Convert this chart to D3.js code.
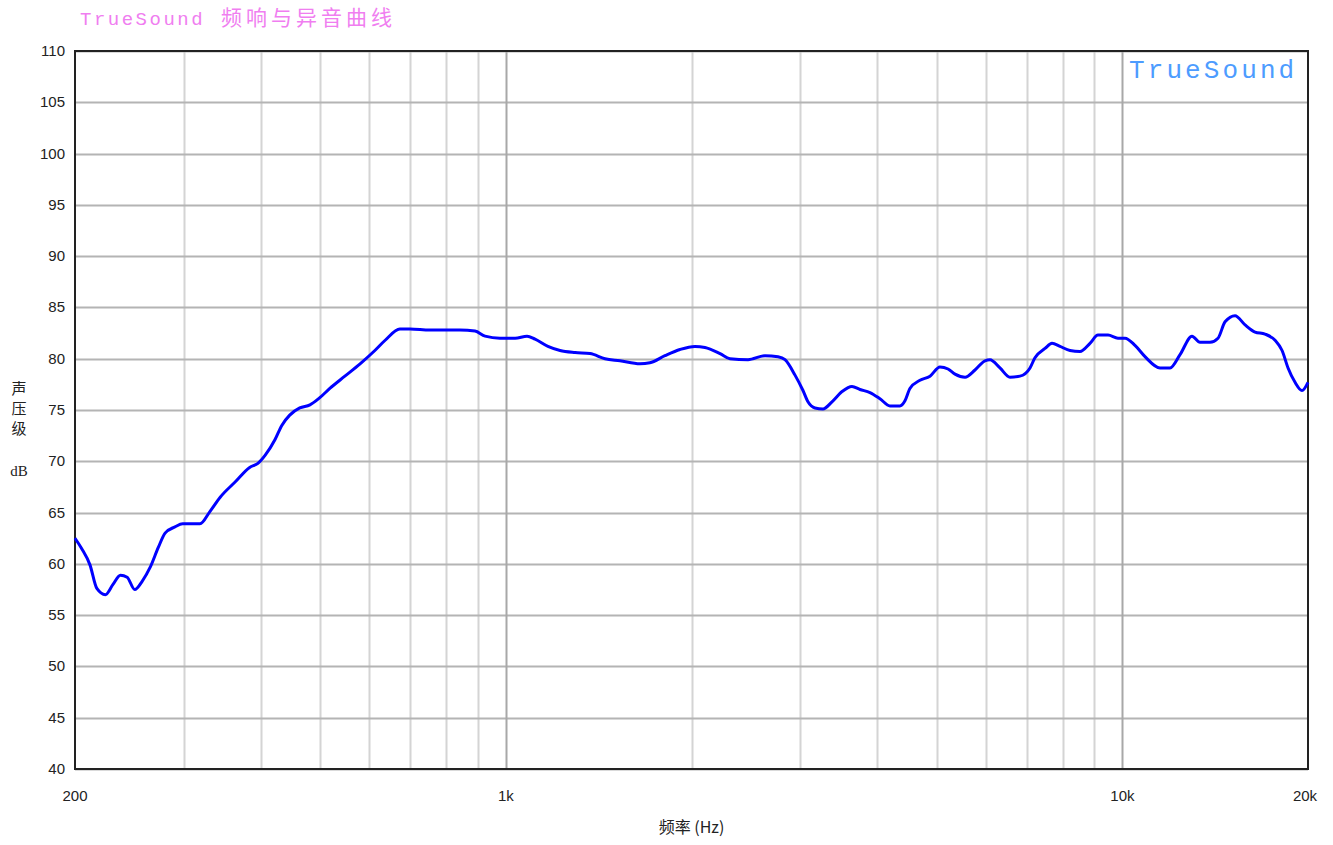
<!DOCTYPE html>
<html>
<head>
<meta charset="utf-8">
<script src="https://cdn.jsdelivr.net/npm/d3@7/dist/d3.min.js"></script>
<style>
  html, body { margin: 0; padding: 0; background: #fff; }
  svg { display: block; }
</style>
</head>
<body>
<svg id="chart" width="1333" height="845"></svg>
<script>
// ---- data ----
const freqHz = [200, 205, 211.5, 217, 224, 230.5, 237, 243, 250, 257, 265, 273, 280, 290.5, 299,
  319, 331, 344, 364, 384, 396, 407, 422, 433, 446, 463, 481, 499, 518, 548, 580, 613, 637, 673,
  699, 753, 842, 891, 925, 978, 1035, 1082, 1115, 1170, 1224, 1295, 1369, 1448, 1531, 1650, 1712,
  1811, 1916, 2026, 2103, 2225, 2309, 2470, 2632, 2763, 2836, 2944, 3033, 3090, 3172, 3268, 3380,
  3509, 3642, 3752, 3895, 4043, 4197, 4357, 4439, 4522, 4695, 4874, 5059, 5214, 5352, 5555, 5766,
  5986, 6099, 6330, 6571, 6821, 7081, 7214, 7489, 7688, 7921, 8222, 8534, 8859, 9128, 9476, 9836,
  10097, 10481, 10881, 11508, 11946, 12401, 12968, 13362, 13870, 14291, 14671, 15229, 15810, 16411,
  17035, 17685, 18154, 18564, 19056, 19557, 20000];
const splDb = [62.5, 61.5, 59.9, 57.6, 57.0, 58.0, 58.9, 58.7, 57.5, 58.3, 59.7, 61.6, 63.0, 63.6, 63.9,
  63.9, 65.1, 66.5, 68.0, 69.4, 69.8, 70.6, 72.1, 73.5, 74.5, 75.2, 75.5, 76.2, 77.1, 78.3, 79.5, 80.8, 81.8, 82.9,
  82.9, 82.8, 82.8, 82.7, 82.2, 82.0, 82.0, 82.2, 81.9, 81.2, 80.8, 80.6, 80.5, 80.0, 79.8, 79.5, 79.6,
  80.3, 80.9, 81.2, 81.1, 80.5, 80.0, 79.9, 80.3, 80.2, 79.9, 78.4, 76.9, 75.8, 75.2, 75.1, 75.8,
  76.8, 77.3, 77.0, 76.7, 76.1, 75.4, 75.4, 75.9, 77.1, 77.9, 78.3, 79.2, 79.0, 78.5, 78.2, 78.9,
  79.8, 79.9, 79.1, 78.2, 78.3, 79.1, 80.1, 81.0, 81.5, 81.2, 80.8, 80.7, 81.5, 82.3, 82.3, 82.0,
  82.0, 81.3, 80.2, 79.1, 79.1, 80.4, 82.2, 81.6, 81.6, 82.0, 83.6, 84.2, 83.3, 82.6,
  82.4, 81.8, 80.8, 79.1, 77.7, 76.9, 77.7];

const yTicks = [40, 45, 50, 55, 60, 65, 70, 75, 80, 85, 90, 95, 100, 105, 110];
const xMinorGrid = [300, 400, 500, 600, 700, 800, 900, 2000, 3000, 4000, 5000, 6000, 7000, 8000, 9000];
const xMajorGrid = [1000, 10000];
const xTickValues = [200, 1000, 10000, 20000];
const xTickLabels = ["200", "1k", "10k", "20k"];

const titleLatin = "TrueSound";
const titleCjk = "频响与异音曲线";
const watermark = "TrueSound";
const yLabelChars = ["声", "压", "级"];
const yUnit = "dB";
const xLabel = "频率 (Hz)";

// ---- layout ----
const padL = 75, padR = 1308, padT = 51, padB = 769;
const svg = d3.select("#chart");

const x = d3.scaleLog().domain([200, 20000]).range([padL, padR]);
const y = d3.scaleLinear().domain([40, 110]).range([padB, padT]);

// minor vertical grid
svg.append("g").selectAll("line").data(xMinorGrid).join("line")
  .attr("x1", d => Math.round(x(d)) + 0.5).attr("x2", d => Math.round(x(d)) + 0.5)
  .attr("y1", padT).attr("y2", padB)
  .attr("stroke", "#d4d4d4").attr("stroke-width", 2);

// horizontal grid
svg.append("g").selectAll("line").data(yTicks).join("line")
  .attr("x1", padL).attr("x2", padR)
  .attr("y1", d => Math.round(y(d)) + 0.5).attr("y2", d => Math.round(y(d)) + 0.5)
  .attr("stroke", "#b4b4b4").attr("stroke-width", 2);

// major vertical grid
svg.append("g").selectAll("line").data(xMajorGrid).join("line")
  .attr("x1", d => Math.round(x(d)) + 0.5).attr("x2", d => Math.round(x(d)) + 0.5)
  .attr("y1", padT).attr("y2", padB)
  .attr("stroke", "#a8a8a8").attr("stroke-width", 2);

// frame
svg.append("rect").attr("x", padL).attr("y", padT)
  .attr("width", padR - padL).attr("height", padB - padT)
  .attr("fill", "none").attr("stroke", "#222").attr("stroke-width", 2);

// curve
const pts = freqHz.map((f, i) => [f, splDb[i]]);
const line = d3.line().x(d => x(d[0])).y(d => y(d[1])).curve(d3.curveMonotoneX);
svg.append("path").datum(pts).attr("d", line)
  .attr("fill", "none").attr("stroke", "#0000ff").attr("stroke-width", 3)
  .attr("stroke-linejoin", "round");

// y tick labels
svg.append("g").selectAll("text").data(yTicks).join("text")
  .attr("x", 65).attr("y", d => y(d) + 5)
  .attr("text-anchor", "end")
  .attr("font-family", "Liberation Sans, Arial, sans-serif").attr("font-size", 15)
  .attr("fill", "#222").text(d => d);

// x tick labels
svg.append("g").selectAll("text").data(xTickValues).join("text")
  .attr("x", (d, i) => x(d) + (i === 3 ? -3 : 0)).attr("y", 801)
  .attr("text-anchor", "middle")
  .attr("font-family", "Liberation Sans, Arial, sans-serif").attr("font-size", 15)
  .attr("fill", "#222").text((d, i) => xTickLabels[i]);

// axis titles
svg.append("text").attr("x", (padL + padR) / 2).attr("y", 833)
  .attr("text-anchor", "middle")
  .attr("font-family", "Noto Sans CJK SC, sans-serif").attr("font-size", 16)
  .attr("fill", "#222").text(xLabel);

svg.append("g").selectAll("text").data(yLabelChars).join("text")
  .attr("x", 19).attr("y", (d, i) => 394 + i * 20)
  .attr("text-anchor", "middle")
  .attr("font-family", "Noto Sans CJK SC, sans-serif").attr("font-size", 15)
  .attr("fill", "#222").text(d => d);
svg.append("text").attr("x", 19).attr("y", 476)
  .attr("text-anchor", "middle")
  .attr("font-family", "Liberation Serif, serif").attr("font-size", 15)
  .attr("fill", "#222").text(yUnit);

// title
const title = svg.append("text").attr("x", 80).attr("y", 25).attr("fill", "#f07ef0");
title.append("tspan").attr("font-family", "Liberation Mono, Courier New, monospace")
  .attr("font-size", 19).attr("letter-spacing", 2.5).text(titleLatin);
title.append("tspan").attr("x", 221).attr("font-family", "Noto Sans CJK SC, sans-serif")
  .attr("font-size", 21).attr("letter-spacing", 4).text(titleCjk);

// watermark
svg.append("text").attr("x", 1129).attr("y", 78)
  .attr("font-family", "Liberation Mono, Courier New, monospace")
  .attr("font-size", 26).attr("letter-spacing", 3.1)
  .attr("fill", "#4d9cff").text(watermark);
</script>
</body>
</html>
